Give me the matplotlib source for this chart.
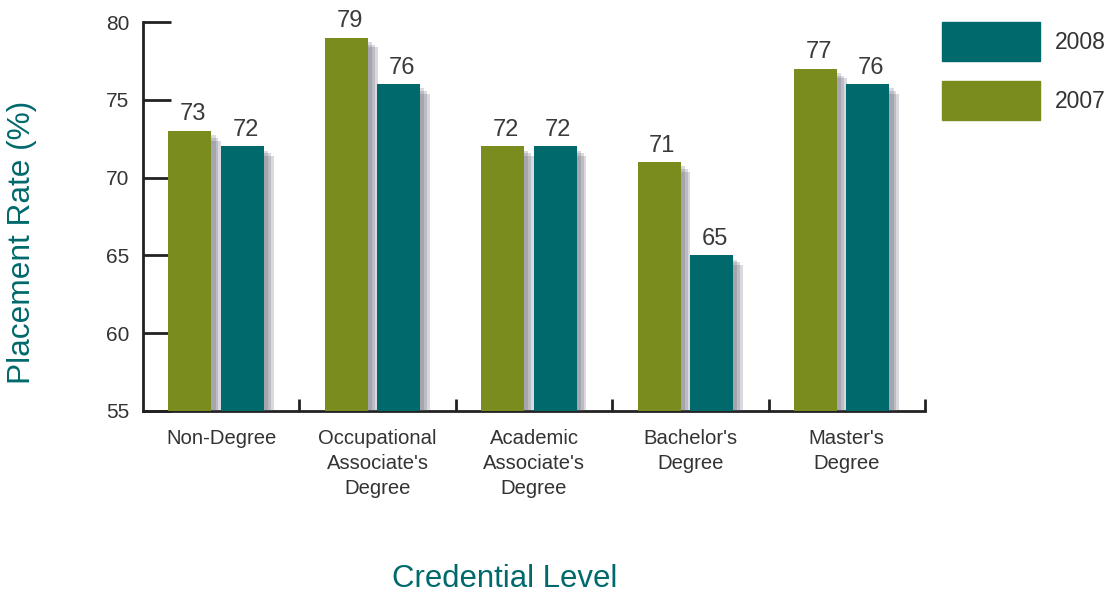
import numpy as np
import matplotlib
matplotlib.use('Agg')
import matplotlib.pyplot as plt
import matplotlib.patheffects as pe
from matplotlib.patches import Patch

plt.rcParams['font.family'] = ['Liberation Sans', 'DejaVu Sans']

# data
categories = ['Non-Degree', "Occupational\nAssociate's\nDegree", "Academic\nAssociate's\nDegree",
              "Bachelor's\nDegree", "Master's\nDegree"]
rate_2007 = [73, 79, 72, 71, 77]
rate_2008 = [72, 76, 72, 65, 76]
series_labels = ['2008', '2007']

green = '#7a8c1e'
teal = '#00696c'
ink = '#222222'

fig = plt.figure(figsize=(11.11, 5.97), dpi=100)
ax = fig.add_axes([143 / 1111, 1 - 411 / 597, (925 - 143) / 1111, (411 - 22) / 597])

x = np.arange(len(categories))
w = 0.275
off07, off08 = -0.2, 0.135

# soft drop shadow: a few stacked offset shadows
shadow = [pe.SimplePatchShadow(offset=(d, -d), shadow_rgbFace='#55556a', alpha=0.22)
          for d in (7, 5, 3)] + [pe.Normal()]

b07 = ax.bar(x + off07, np.array(rate_2007) - 55, w, bottom=55, color=green, zorder=3)
b08 = ax.bar(x + off08, np.array(rate_2008) - 55, w, bottom=55, color=teal, zorder=3)
for b in list(b07) + list(b08):
    b.set_path_effects(shadow)

for xs, vals in [(x + off07, rate_2007), (x + off08, rate_2008)]:
    for xi, v in zip(xs, vals):
        ax.text(xi + 0.02, v + 0.35, str(v), ha='center', va='bottom', fontsize=17, color='#3a3a3a')

ax.set_xlim(-0.5, 4.5)
ax.set_ylim(55, 80)
ax.set_yticks(np.arange(55, 81, 5))
ax.tick_params(axis='y', direction='in', length=20, width=2, color=ink, labelsize=15,
               labelcolor='#333333', pad=10)
ax.set_xticks(x)
ax.set_xticklabels(categories, fontsize=14.6, color='#333333', linespacing=1.4)
ax.set_xticks(x + 0.5, minor=True)
ax.tick_params(axis='x', which='major', length=0, pad=13)
ax.tick_params(axis='x', which='minor', direction='in', length=9, width=2, color=ink)

for s in ['top', 'right']:
    ax.spines[s].set_visible(False)
for s in ['left', 'bottom']:
    ax.spines[s].set_linewidth(2)
    ax.spines[s].set_color(ink)

handles = [Patch(color=teal), Patch(color=green)]
fig.legend(handles, series_labels, loc='upper left', bbox_to_anchor=(942 / 1111, 1 - 22 / 597),
           frameon=False, fontsize=16.5, handlelength=4.28, handleheight=2.24, labelspacing=0.87,
           handletextpad=0.65, borderpad=0, borderaxespad=0, labelcolor='#333333')

fig.text(22 / 1111, 1 - 242 / 597, 'Placement Rate (%)', rotation=90, ha='center', va='center',
         fontsize=22.8, color=teal)
fig.text(505 / 1111, 1 - 579 / 597, 'Credential Level', ha='center', va='center',
         fontsize=22.4, color=teal)

fig.savefig('out.png', dpi=100)
